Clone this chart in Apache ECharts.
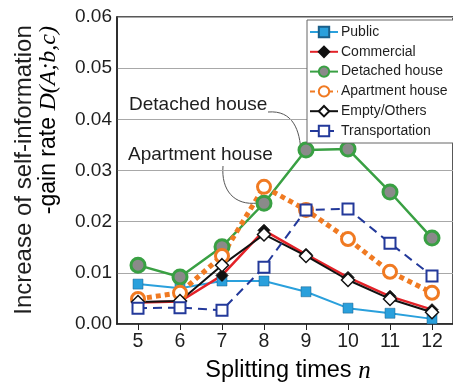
<!DOCTYPE html>
<html>
<head>
<meta charset="utf-8">
<script src="https://cdn.jsdelivr.net/npm/echarts@6/dist/echarts.min.js"></script>
<style>
  html, body { margin: 0; padding: 0; background: #fff; }
  #chart { width: 453px; height: 383px; }
</style>
</head>
<body>
<div id="chart"></div>
<script>
// Splitting times n
const splits = ['5', '6', '7', '8', '9', '10', '11', '12'];
const yTicks = [0, 0.01, 0.02, 0.03, 0.04, 0.05, 0.06];

// Increase of self-information gain rate per land-use class
const publicUse      = [0.0078, 0.0070, 0.0084, 0.0084, 0.0063, 0.0031, 0.0021, 0.0010];
const commercial     = [0.0042, 0.0044, 0.0095, 0.0183, 0.0136, 0.0091, 0.0054, 0.0028];
const detached       = [0.0115, 0.0092, 0.0151, 0.0236, 0.0340, 0.0342, 0.0258, 0.0168];
const apartment      = [0.0049, 0.0061, 0.0133, 0.0268, 0.0223, 0.0166, 0.0102, 0.0061];
const emptyOthers    = [0.0043, 0.0045, 0.0115, 0.0175, 0.0133, 0.0086, 0.0049, 0.0023];
const transportation = [0.0031, 0.0032, 0.0027, 0.0111, 0.0223, 0.0225, 0.0158, 0.0094];

const FONT = '"Liberation Sans", Arial, sans-serif';
const SERIF = '"Liberation Serif", "Times New Roman", serif';
const INK = '#1e1e1e';

const chart = echarts.init(document.getElementById('chart'), null, { renderer: 'canvas' });

chart.setOption({
  animation: false,
  backgroundColor: '#fff',
  grid: {
    left: 117, top: 17, width: 346, height: 307,
    show: true, borderColor: '#222', borderWidth: 1.5, backgroundColor: 'transparent'
  },
  legend: {
    orient: 'vertical',
    left: 307, top: 20,
    padding: [5, 8, 5, 2],
    itemWidth: 28, itemHeight: 13, itemGap: 5.8,
    backgroundColor: '#fff',
    borderColor: '#666', borderWidth: 1,
    textStyle: { fontFamily: FONT, fontSize: 14, color: INK, padding: [0, 0, 0, -2] },
    data: ['Public', 'Commercial', 'Detached house', 'Apartment house', 'Empty/Others', 'Transportation']
  },
  xAxis: {
    type: 'category',
    data: splits,
    boundaryGap: true,
    axisLine: { show: true, lineStyle: { color: '#222', width: 1.5 } },
    axisTick: { show: true, alignWithLabel: true, length: 6, lineStyle: { color: '#222' } },
    axisLabel: { fontFamily: FONT, fontSize: 19.5, color: INK, margin: 8 },
    splitLine: { show: false }
  },
  yAxis: {
    type: 'value',
    min: yTicks[0], max: yTicks[yTicks.length - 1], interval: 0.01,
    axisLine: { show: true, lineStyle: { color: '#222', width: 1.5 } },
    axisTick: { show: false },
    axisLabel: {
      fontFamily: FONT, fontSize: 19, color: INK, margin: 5,
      formatter: v => v.toFixed(2)
    },
    splitLine: { show: true, lineStyle: { color: '#a8a8a8', width: 1 } }
  },
  series: [
    {
      name: 'Public', type: 'line', data: publicUse,
      symbol: 'rect', symbolSize: 10,
      lineStyle: { color: '#2aa0dc', width: 2 },
      itemStyle: { color: '#2aa0dc', borderColor: '#1a5f8a', borderWidth: 0.5 }
    },
    {
      name: 'Commercial', type: 'line', data: commercial,
      symbol: 'diamond', symbolSize: 12,
      lineStyle: { color: '#e32228', width: 2.5 },
      itemStyle: { color: '#111', borderColor: '#111', borderWidth: 1 }
    },
    {
      name: 'Detached house', type: 'line', data: detached,
      symbol: 'circle', symbolSize: 14,
      lineStyle: { color: '#39a043', width: 2.5 },
      itemStyle: { color: '#8a8a8a', borderColor: '#39a043', borderWidth: 3 }
    },
    {
      name: 'Apartment house', type: 'line', data: apartment,
      symbol: 'circle', symbolSize: 13,
      lineStyle: { color: '#f07a22', width: 5, type: [5, 4], cap: 'butt' },
      itemStyle: { color: '#fff', borderColor: '#f07a22', borderWidth: 3 }
    },
    {
      name: 'Empty/Others', type: 'line', data: emptyOthers,
      symbol: 'diamond', symbolSize: 13,
      lineStyle: { color: '#111', width: 2 },
      itemStyle: { color: '#fff', borderColor: '#111', borderWidth: 1.5 }
    },
    {
      name: 'Transportation', type: 'line', data: transportation,
      symbol: 'rect', symbolSize: 11,
      lineStyle: { color: '#23399a', width: 2, type: [9, 6] },
      itemStyle: { color: '#fff', borderColor: '#23399a', borderWidth: 2 }
    }
  ],
  graphic: [
    // y-axis title, two rotated lines
    {
      type: 'text', x: 24, y: 170, rotation: Math.PI / 2,
      style: {
        text: 'Increase of self-information',
        fontFamily: FONT, fontSize: 24, fill: INK,
        align: 'center', verticalAlign: 'middle'
      }
    },
    {
      type: 'text', x: 49, y: 26, rotation: Math.PI / 2,
      style: {
        text: '{a|-gain rate }{b|D(A;b,c)}',
        align: 'right', verticalAlign: 'middle',
        rich: {
          a: { fontFamily: FONT, fontSize: 23, color: INK },
          b: { fontFamily: SERIF, fontStyle: 'italic', fontSize: 24, color: INK }
        }
      }
    },
    // x-axis title
    {
      type: 'text', x: 288, y: 371,
      style: {
        text: '{a|Splitting times }{b|n}',
        align: 'center', verticalAlign: 'middle',
        rich: {
          a: { fontFamily: FONT, fontSize: 23.5, color: INK },
          b: { fontFamily: SERIF, fontStyle: 'italic', fontSize: 25, color: INK }
        }
      }
    },
    // annotations with leader curves
    {
      type: 'text', x: 129, y: 105,
      style: { text: 'Detached house', fontFamily: FONT, fontSize: 19, fill: INK, verticalAlign: 'middle' }
    },
    {
      type: 'text', x: 128, y: 155,
      style: { text: 'Apartment house', fontFamily: FONT, fontSize: 19, fill: INK, verticalAlign: 'middle' }
    },
    {
      type: 'bezierCurve',
      shape: { x1: 268, y1: 112, cpx1: 293, cpy1: 110, cpx2: 300, cpy2: 130, x2: 301, y2: 153 },
      style: { stroke: '#555', lineWidth: 1, fill: null }
    },
    {
      type: 'bezierCurve',
      shape: { x1: 223, y1: 166, cpx1: 221, cpy1: 190, cpx2: 234, cpy2: 206, x2: 258, y2: 203 },
      style: { stroke: '#555', lineWidth: 1, fill: null }
    }
  ]
});
</script>
</body>
</html>
